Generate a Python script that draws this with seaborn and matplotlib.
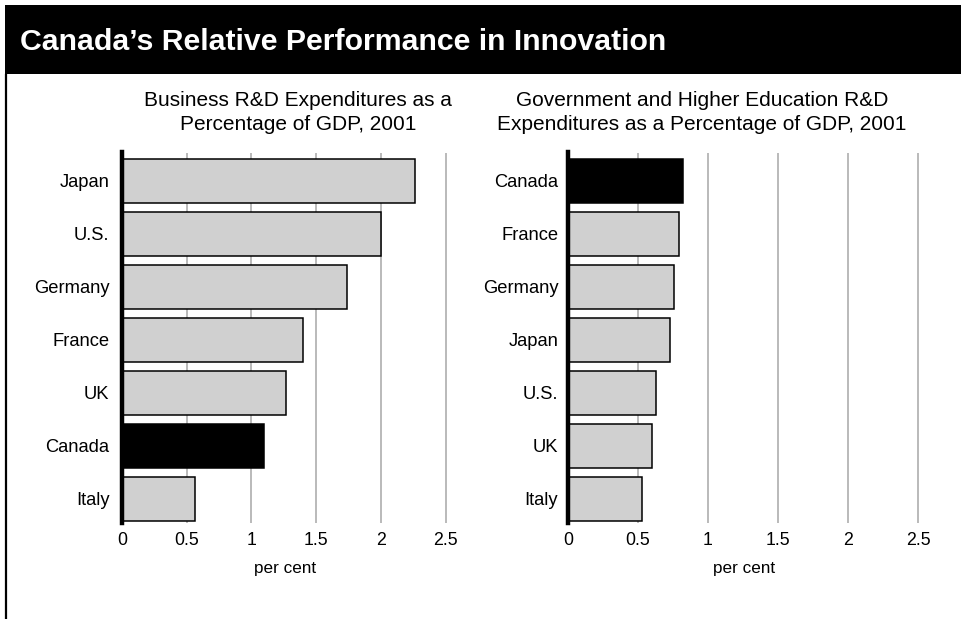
import matplotlib
matplotlib.use("Agg")
import matplotlib.pyplot as plt
from matplotlib.patches import Rectangle
from matplotlib.lines import Line2D
import seaborn as sns
import pandas as pd

# Business R&D expenditures, % of GDP, 2001
business_countries = ["Japan", "U.S.", "Germany", "France", "UK", "Canada", "Italy"]
business_values = [2.26, 2.00, 1.74, 1.40, 1.27, 1.10, 0.56]

# Government and higher-education R&D expenditures, % of GDP, 2001
gov_countries = ["Canada", "France", "Germany", "Japan", "U.S.", "UK", "Italy"]
gov_values = [0.82, 0.79, 0.755, 0.73, 0.63, 0.60, 0.53]

x_ticks = [0, 0.5, 1, 1.5, 2, 2.5]
x_tick_labels = ["0", "0.5", "1", "1.5", "2", "2.5"]

title = "Canada\u2019s Relative Performance in Innovation"
left_subtitle = "Business R&D Expenditures as a\nPercentage of GDP, 2001"
right_subtitle = "Government and Higher Education R&D\nExpenditures as a Percentage of GDP, 2001"
x_label = "per cent"

sns.set_theme(style="white")
plt.rcParams["font.family"] = ["Liberation Sans", "DejaVu Sans"]

W, H = 961, 619
fig = plt.figure(figsize=(W / 100, H / 100), dpi=100)
fig.patch.set_facecolor("white")


def fx(px):
    return px / W


def fy(py):
    return 1 - py / H


GREY = "#d0d0d0"
HIGHLIGHT = "black"


def draw_panel(rect, countries, values, ppu, ypad):
    x0, ytop, ybot = rect
    xmax = 2.52
    ax = fig.add_axes([fx(x0), fy(ybot), (xmax * ppu) / W, (ybot - ytop) / H])
    df = pd.DataFrame({"country": countries, "value": values})
    palette = {c: (HIGHLIGHT if c == "Canada" else GREY) for c in countries}
    sns.barplot(data=df, x="value", y="country", hue="country", palette=palette,
                order=countries, hue_order=countries, legend=False, orient="h",
                width=0.82, edgecolor="black", linewidth=1.1, saturation=1,
                ax=ax, zorder=3)
    ax.set_xlim(0, xmax)
    ax.set_ylim(6.45, -0.535)
    ax.set_xticks(x_ticks)
    ax.set_xticklabels(x_tick_labels, fontsize=12.8)
    ax.tick_params(axis="both", length=0)
    ax.tick_params(axis="x", pad=7)
    ax.tick_params(axis="y", pad=ypad, labelsize=13.2)
    for t in ax.get_yticklabels() + ax.get_xticklabels():
        t.set_color("black")
    ax.grid(axis="x", color="#b4b4b4", linewidth=1.3, zorder=0)
    ax.set_axisbelow(True)
    for s in ["top", "right", "bottom"]:
        ax.spines[s].set_visible(False)
    ax.spines["left"].set_color("black")
    ax.spines["left"].set_linewidth(3.2)
    ax.spines["left"].set_zorder(5)
    ax.set_ylabel("")
    ax.set_xlabel(x_label, fontsize=12.3, labelpad=8, color="black")
    return ax


draw_panel((122, 152.5, 522.7), business_countries, business_values, 129.5, 9)
draw_panel((568, 152.5, 522.7), gov_countries, gov_values, 140.0, 7)

# Title banner and frame line
fig.patches.append(Rectangle((fx(5), fy(74)), 1 - fx(5), fy(5) - fy(74),
                             transform=fig.transFigure, facecolor="black",
                             edgecolor="none", zorder=0))
fig.lines.append(Line2D([fx(6), fx(6)], [0, fy(74)], transform=fig.transFigure,
                        color="black", linewidth=1.6))
fig.text(fx(20), fy(42), title, color="white", fontsize=21.8, fontweight="bold",
         ha="left", va="center")

fig.text(fx(298), fy(112.5), left_subtitle, ha="center", va="center",
         fontsize=15, linespacing=1.4, color="black")
fig.text(fx(702), fy(112.5), right_subtitle, ha="center", va="center",
         fontsize=15, linespacing=1.4, color="black")

fig.savefig("out.png", dpi=100)
